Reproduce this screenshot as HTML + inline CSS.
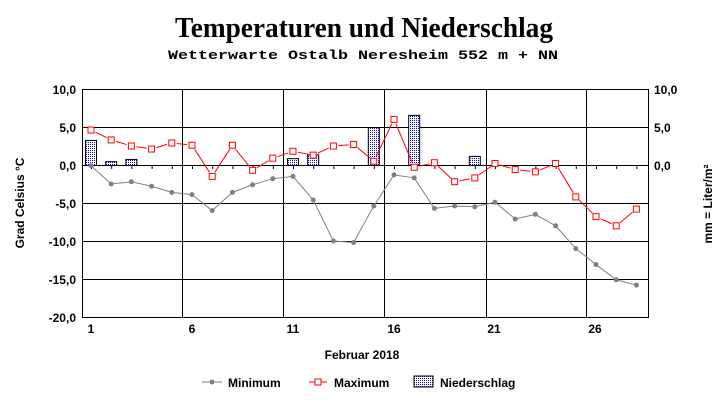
<!DOCTYPE html>
<html><head><meta charset="utf-8"><style>
html,body{margin:0;padding:0;background:#fff;}
svg{display:block;}
text{font-family:"Liberation Sans",Arial,sans-serif;font-weight:bold;fill:#000;}
</style></head><body>
<svg id="s" width="727" height="404" xmlns="http://www.w3.org/2000/svg">
<defs>
<pattern id="dots" width="2" height="2" patternUnits="userSpaceOnUse">
<rect width="2" height="2" fill="#fff"/><rect width="1" height="1" fill="#0000ff"/>
</pattern>
</defs>
<text x="364" y="37" text-anchor="middle" style="font-family:'Liberation Serif',serif" font-size="29" textLength="378" lengthAdjust="spacingAndGlyphs">Temperaturen und Niederschlag</text>
<text x="363" y="59" text-anchor="middle" style="font-family:'Liberation Mono',monospace" font-size="13" textLength="390" lengthAdjust="spacingAndGlyphs">Wetterwarte Ostalb Neresheim 552 m + NN</text>
<g id="grid" stroke="#000" stroke-width="1" fill="none"></g>
<g id="data"></g>
<g font-size="12" text-anchor="end">
<text x="76" y="94">10,0</text><text x="76" y="132">5,0</text><text x="76" y="170">0,0</text>
<text x="76" y="208">-5,0</text><text x="76" y="246">-10,0</text><text x="76" y="284">-15,0</text><text x="76" y="322">-20,0</text>
</g>
<g font-size="12" text-anchor="start">
<text x="654" y="94">10,0</text><text x="654" y="132">5,0</text><text x="654" y="170">0,0</text>
</g>
<g font-size="12" text-anchor="middle">
<text x="91" y="333">1</text><text x="192" y="333">6</text><text x="293" y="333">11</text><text x="394" y="333">16</text><text x="494" y="333">21</text><text x="595" y="333">26</text>
<text x="362" y="359">Februar 2018</text>
</g>
<text transform="translate(24,203) rotate(-90)" font-size="12" text-anchor="middle">Grad Celsius °C</text>
<text transform="translate(712,204) rotate(-90)" font-size="12" text-anchor="middle">mm = Liter/m²</text>
<g font-size="12">
<line x1="202" y1="382" x2="222" y2="382" stroke="#808080"/><circle cx="212" cy="382" r="2.5" fill="#808080"/>
<text x="228" y="387">Minimum</text>
<line x1="309" y1="382" x2="327" y2="382" stroke="#f00"/><rect x="315" y="379" width="6" height="6" fill="#fff" stroke="#f00"/>
<text x="334" y="387">Maximum</text>
<rect x="414" y="376" width="19" height="11" fill="url(#dots)" stroke="#000"/>
<text x="440" y="387">Niederschlag</text>
</g>
</svg>
<script>
var NS="http://www.w3.org/2000/svg";
function el(p,t,a){var e=document.createElementNS(NS,t);for(var k in a)e.setAttribute(k,a[k]);p.appendChild(e);return e;}
var L=82,R=648,T=89,B=317;
function X(d){return 91+(d-1)*20.2;}
function Y(v){return 165-v*7.6;}
var g=document.getElementById('grid'),D=document.getElementById('data');
for(var v=5;v>-20;v-=5){el(g,'line',{x1:L,y1:Y(v)+.5,x2:R,y2:Y(v)+.5});}
[182,283,384,486,586].forEach(function(x){el(g,'line',{x1:x+.5,y1:T,x2:x+.5,y2:B});});
el(g,'rect',{x:L+.5,y:T+.5,width:R-L,height:B-T});
for(var d=1;d<=28;d++){el(g,'line',{x1:X(d)+.5,y1:165,x2:X(d)+.5,y2:169});}
var pr={1:3.3,2:0.5,3:0.8,11:0.9,12:1.4,15:5.0,17:6.6,20:1.2};
for(var k in pr){var h=pr[k]*7.6;el(D,'rect',{x:X(+k)-5.5,y:165.5-h,width:11,height:h,fill:'url(#dots)',stroke:'#000'});}
var mn=[-0.1,-2.5,-2.2,-2.8,-3.6,-3.9,-6.0,-3.6,-2.6,-1.8,-1.5,-4.6,-10.0,-10.2,-5.4,-1.3,-1.7,-5.7,-5.4,-5.5,-4.9,-7.1,-6.5,-8.0,-11.0,-13.1,-15.1,-15.8];
var mx=[4.6,3.3,2.5,2.1,2.9,2.6,-1.5,2.6,-0.7,0.9,1.8,1.3,2.5,2.7,0.5,6.0,-0.3,0.3,-2.2,-1.7,0.2,-0.6,-0.9,0.2,-4.2,-6.8,-8.0,-5.8];
var p=mn.map(function(v,i){return X(i+1)+','+Y(v);}).join(' ');
el(D,'polyline',{points:p,fill:'none',stroke:'#808080','stroke-width':1});
mn.forEach(function(v,i){el(D,'circle',{cx:X(i+1),cy:Y(v),r:2.5,fill:'#808080'});});
for(var i=0;i<27;i++){var x1=X(i+1),y1=Y(mx[i]),x2=X(i+2),y2=Y(mx[i+1]);var dx=x2-x1,dy=y2-y1,l=Math.sqrt(dx*dx+dy*dy),g1=5/l,g2=5/l;
el(D,'line',{x1:x1+dx*g1,y1:y1+dy*g1,x2:x2-dx*g2,y2:y2-dy*g2,stroke:'#f00','stroke-width':1});}
mx.forEach(function(v,i){el(D,'rect',{x:X(i+1)-3,y:Y(v)-3,width:6,height:6,fill:'#fff',stroke:'#f00'});});
</script>
</body></html>
